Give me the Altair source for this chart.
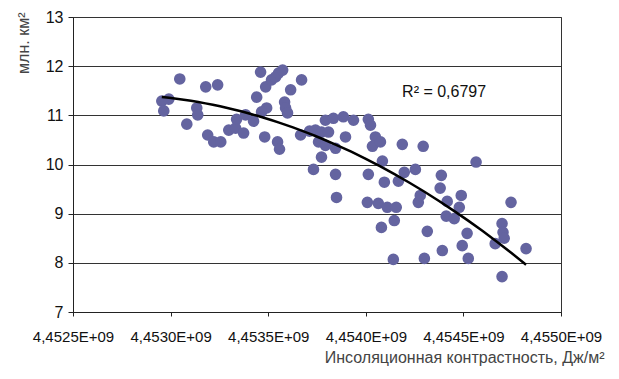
import altair as alt
import pandas as pd

# Insolation contrast (J/m^2) and area (mln km^2)
x_vals = [
    4453047000, 4452955000, 4452991000, 4452965000, 4453083000, 4453180000, 4453241000,
    4453134000, 4453139000, 4453190000, 4453221000, 4453257000, 4453298000, 4453333000,
    4453374000, 4453338000, 4453384000, 4453425000, 4453441000, 4453487000, 4453461000,
    4453517000, 4453538000, 4453553000, 4453574000, 4453492000, 4453466000, 4453482000,
    4453548000, 4453558000, 4453584000, 4453589000, 4453599000, 4453615000, 4453671000,
    4453666000, 4453712000, 4453742000, 4453773000, 4453809000, 4453793000, 4453834000,
    4453885000, 4453937000, 4453758000, 4453793000, 4453845000, 4453773000, 4453732000,
    4453845000, 4453896000, 4454013000, 4454024000, 4454049000, 4454034000, 4454075000,
    4454187000, 4454294000, 4454565000, 4454085000, 4454013000, 4454197000, 4454254000,
    4454387000, 4453850000, 4454095000, 4454167000, 4454381000, 4454008000, 4454064000,
    4454110000, 4454156000, 4454146000, 4454080000, 4454269000, 4454279000, 4454417000,
    4454489000, 4454479000, 4454412000, 4454453000, 4454315000, 4454519000, 4454494000,
    4454392000, 4454141000, 4454300000, 4454525000, 4454744000, 4454698000, 4454703000,
    4454709000, 4454663000, 4454821000, 4454698000,
]
y_vals = [
    11.74, 11.29, 11.33, 11.09, 10.82, 11.58, 11.62,
    11.15, 11.01, 10.60, 10.46, 10.46, 10.70, 10.74,
    10.64, 10.92, 11.01, 10.88, 11.37, 11.58, 11.88,
    11.72, 11.78, 11.86, 11.92, 11.15, 11.07, 10.56,
    10.46, 10.31, 11.27, 11.15, 11.05, 11.52, 11.72,
    10.60, 10.68, 10.70, 10.66, 10.66, 10.90, 10.94,
    10.97, 10.90, 10.46, 10.39, 10.33, 10.15, 9.90,
    9.80, 10.56, 10.92, 10.80, 10.56, 10.37, 10.46,
    10.41, 10.37, 10.05, 10.07, 9.80, 9.84, 9.90,
    9.78, 9.33, 9.64, 9.66, 9.52, 9.23, 9.21,
    9.13, 9.13, 8.86, 8.72, 9.23, 9.37, 9.25,
    9.37, 9.13, 8.95, 8.90, 8.64, 8.60, 8.35,
    8.25, 8.07, 8.09, 8.09, 9.23, 8.80, 8.62,
    8.50, 8.39, 8.29, 7.72,
]

x_ticks = [4452500000, 4453000000, 4453500000, 4454000000, 4454500000, 4455000000]
y_ticks = [7, 8, 9, 10, 11, 12, 13]
x_origin = 4452500000

x_title = "Инсоляционная контрастность, Дж/м²"
y_title = "млн. км²"
r2_text = "R² = 0,6797"
r2_x = 4454186000
r2_y = 11.48

df = pd.DataFrame({"x": x_vals, "y": y_vals})

FONT = "Liberation Sans"
POINT = "#6464A0"

x_scale = alt.Scale(domain=[x_ticks[0], x_ticks[-1]], nice=False, zero=False)
y_scale = alt.Scale(domain=[y_ticks[0], y_ticks[-1]], nice=False, zero=False)

x_axis = alt.Axis(
    values=x_ticks,
    labelExpr="replace(format(datum.value / 1e9, '.4f'), '.', ',') + 'E+09'",
    grid=False,
    tickSize=4,
    tickColor="#222",
    domainColor="#222",
    labelPadding=13,
    labelFontSize=15,
    labelFont=FONT,
    labelColor="#111",
    labelOverlap=False,
    labelFlush=False,
    labelBound=False,
    title=x_title,
    titleFont=FONT,
    titleFontSize=16,
    titleFontWeight="normal",
    titleColor="#444",
    titleAlign="right",
    titleBaseline="middle",
    titleX=531,
    titleY=45,
)
y_axis = alt.Axis(
    values=y_ticks,
    format="d",
    grid=True,
    gridColor="#333",
    gridWidth=1,
    gridOpacity=1,
    tickSize=5,
    tickColor="#222",
    domainColor="#222",
    labelPadding=5,
    labelFontSize=16,
    labelFont=FONT,
    labelColor="#111",
    labelOverlap=False,
    labelFlush=False,
    title=y_title,
    titleFont=FONT,
    titleFontSize=16,
    titleFontWeight="normal",
    titleColor="#444",
    titleAngle=270,
    titleAlign="right",
    titleBaseline="middle",
    titleX=-50,
    titleY=-5,
)

base = alt.Chart(df)

points = base.mark_circle(size=135, opacity=1, color=POINT).encode(
    x=alt.X("x:Q", scale=x_scale, axis=x_axis),
    y=alt.Y("y:Q", scale=y_scale, axis=y_axis),
)

trend = (
    base.transform_calculate(xo=f"datum.x - {x_origin}")
    .transform_regression("xo", "y", method="poly", order=2)
    .transform_calculate(xr=f"datum.xo + {x_origin}")
    .mark_line(color="black", strokeWidth=2.5)
    .encode(
        x=alt.X("xr:Q", scale=x_scale),
        y=alt.Y("y:Q", scale=y_scale),
    )
)

label = alt.Chart(pd.DataFrame({"t": [r2_text]})).mark_text(
    align="left", baseline="middle", font=FONT, fontSize=16, color="#111"
).encode(
    x=alt.datum(r2_x, scale=x_scale),
    y=alt.datum(r2_y, scale=y_scale),
    text="t:N",
)

chart = (
    alt.layer(points, trend, label)
    .properties(
        width=488,
        height=295,
        padding={"left": 65, "top": 9, "right": 45, "bottom": 56},
        autosize=alt.AutoSizeParams(type="none"),
        background="white",
    )
    .configure_view(stroke="#333", strokeWidth=1)
)

chart.save("out.html", embed_options={"renderer": "svg", "actions": False})
